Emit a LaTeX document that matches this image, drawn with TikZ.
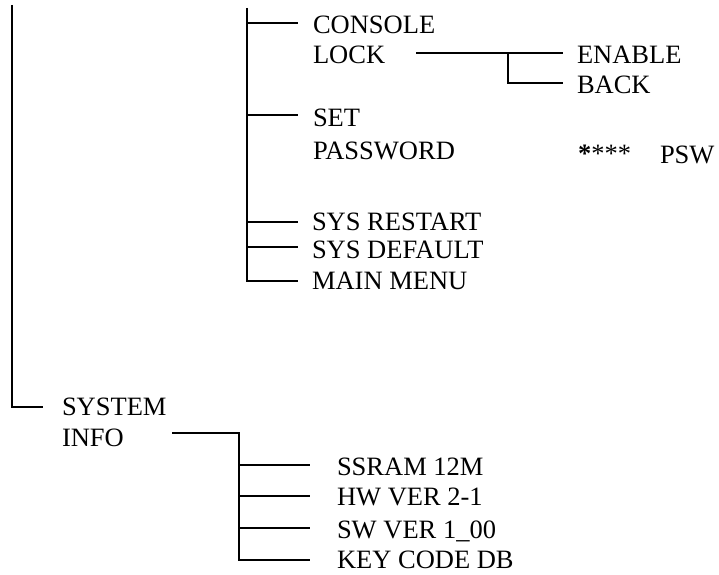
\documentclass[tikz,border=0pt]{standalone}
\usepackage{fontspec}
\setmainfont{Liberation Serif}
\begin{document}
\begin{tikzpicture}[x=1bp,y=-1bp,
  line width=1.4bp,
  item/.style={anchor=base west,inner sep=0pt,outer sep=0pt,
    font=\fontsize{26.6pt}{30pt}\selectfont}]
\useasboundingbox (0,0) rectangle (719,575);

% ---- menu labels ----
\node[item] (console)  at (313,34)  {CONSOLE};
\node[item] (lock)     at (313,64)  {LOCK};
\node[item] (enable)   at (577,64)  {ENABLE};
\node[item] (back)     at (577,94)  {BACK};
\node[item] (set)      at (313,127) {SET};
\node[item] (password) at (313,160) {PASSWORD};
\node[item] (stars)    at (578,163) {\textbf{*}***};
\node[item] (psw)      at (660,164) {PSW};
\node[item] (restart)  at (312,230) {SYS RESTART};
\node[item] (default)  at (312,258) {SYS DEFAULT};
\node[item] (mainmenu) at (312,289) {MAIN MENU};
\node[item] (system)   at (62,415)  {SYSTEM};
\node[item] (info)     at (62,446)  {INFO};
\node[item] (ssram)    at (337,475) {SSRAM 12M};
\node[item] (hwver)    at (337,505) {HW VER 2-1};
\node[item] (swver)    at (337,538) {SW VER 1\_00};
\node[item] (keycode)  at (337,568) {KEY CODE DB};

% ---- branch points ----
\coordinate (roottop)  at (12,5);
\coordinate (rootend)  at (43,407);
\coordinate (subtop)   at (247,8);
\coordinate (cEnd)     at (298,23);
\coordinate (sEnd)     at (298,115);
\coordinate (rEnd)     at (298,222);
\coordinate (dEnd)     at (298,247);
\coordinate (mEnd)     at (298,281);
\coordinate (lockA)    at (416,53);
\coordinate (lockB)    at (508,53);
\coordinate (eEnd)     at (563,53);
\coordinate (bEnd)     at (563,83);
\coordinate (infoA)    at (172,433);
\coordinate (infoB)    at (239,433);
\coordinate (k1)       at (310,465);
\coordinate (k2)       at (310,496);
\coordinate (k3)       at (310,528);
\coordinate (k4)       at (310,560);

% ---- connectors ----
\draw (roottop) |- (rootend);
\draw (subtop) |- (mEnd);
\draw (subtop |- cEnd) -- (cEnd);
\draw (subtop |- sEnd) -- (sEnd);
\draw (subtop |- rEnd) -- (rEnd);
\draw (subtop |- dEnd) -- (dEnd);
\draw (lockA) -- (eEnd);
\draw (lockB) |- (bEnd);
\draw (infoA) -- (infoB) |- (k4);
\draw (infoB |- k1) -- (k1);
\draw (infoB |- k2) -- (k2);
\draw (infoB |- k3) -- (k3);
\end{tikzpicture}
\end{document}
